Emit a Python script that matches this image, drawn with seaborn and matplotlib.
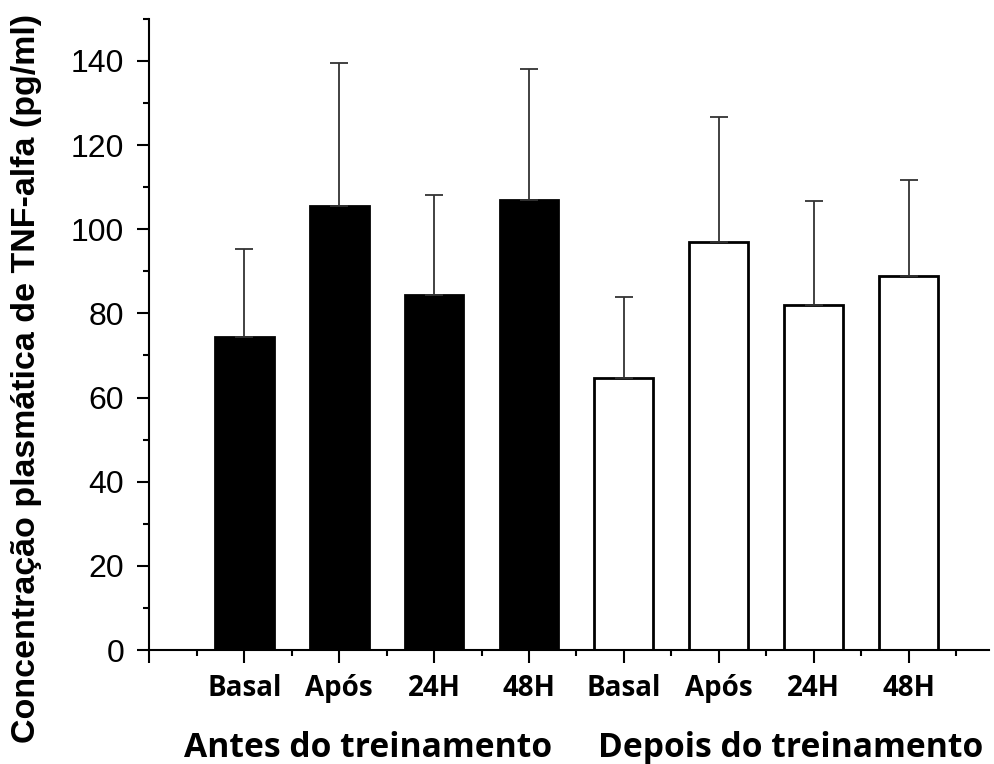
import matplotlib
matplotlib.use("Agg")
import matplotlib.pyplot as plt
from matplotlib.ticker import MultipleLocator, FixedLocator
import seaborn as sns
import pandas as pd
import numpy as np

# ---- data ----
positions = [1, 2, 3, 4, 5, 6, 7, 8]
tick_labels = ["Basal", "Após", "24H", "48H", "Basal", "Após", "24H", "48H"]
groups = ["Antes do treinamento"] * 4 + ["Depois do treinamento"] * 4
group_names = ["Antes do treinamento", "Depois do treinamento"]
means = [74.5, 105.6, 84.3, 107.0, 64.7, 96.9, 81.9, 88.8]
upper_err_tops = [95.3, 139.4, 108.2, 138.1, 83.8, 126.7, 106.6, 111.6]
y_label = "Concentração plasmática de TNF-alfa (pg/ml)"

sns.set_theme(style="white")
plt.rcParams["font.family"] = ["Liberation Sans", "DejaVu Sans"]

df = pd.DataFrame({"pos": positions, "mean": means, "grupo": groups})

fig = plt.figure(figsize=(9.95, 7.64), dpi=100)
ax = fig.add_axes([149.3 / 995, 114 / 764, 840 / 995, (650 - 18.9) / 764])

sns.barplot(data=df, x="pos", y="mean", hue="grupo", native_scale=True,
            palette={group_names[0]: "black", group_names[1]: "white"},
            edgecolor="black", linewidth=2.0, width=0.62, dodge=False,
            errorbar=None, legend=False, ax=ax)

yerr_up = np.array(upper_err_tops) - np.array(means)
ax.errorbar(positions, means, yerr=[np.zeros(len(means)), yerr_up], fmt="none",
            ecolor="#333333", elinewidth=1.3, capsize=6.5, capthick=1.3, zorder=1)

ax.set_xlim(0, 8.85)
ax.set_ylim(0, 150)

for s in ["top", "right"]:
    ax.spines[s].set_visible(False)
for s in ["left", "bottom"]:
    ax.spines[s].set_color("black")
    ax.spines[s].set_linewidth(1.5)

ax.yaxis.set_major_locator(MultipleLocator(20))
ax.yaxis.set_minor_locator(MultipleLocator(10))
ax.xaxis.set_major_locator(FixedLocator([0] + positions))
ax.xaxis.set_minor_locator(FixedLocator([p - 0.5 for p in positions] + [8.5]))
ax.set_xticklabels([""] + tick_labels)

ax.tick_params(axis="both", which="major", direction="out", length=9, width=1.5,
               color="black", bottom=True, left=True)
ax.tick_params(axis="both", which="minor", direction="out", length=4.5, width=1.5,
               color="black", bottom=True, left=True)
ax.tick_params(axis="y", which="major", labelsize=23, pad=9, labelcolor="black")
ax.tick_params(axis="x", which="major", labelsize=20, pad=8, labelcolor="black")
for lab in ax.get_yticklabels():
    lab.set_fontfamily(["Liberation Sans", "DejaVu Sans"])
for lab in ax.get_xticklabels():
    lab.set_fontfamily(["Open Sans", "DejaVu Sans"])
    lab.set_fontweight("bold")

ax.set_xlabel("")
ax.set_ylabel("")

fig.text(27 / 995, 0.505, y_label, rotation=90, ha="center", va="center",
         fontsize=24.5, fontweight="bold", color="black",
         family=["Liberation Sans Narrow", "Liberation Sans", "DejaVu Sans"])

fig.text(368 / 995, 16 / 764, group_names[0], ha="center", va="center",
         fontsize=24.2, fontweight="bold", color="black", family=["Open Sans", "DejaVu Sans"])
fig.text(791 / 995, 16 / 764, group_names[1], ha="center", va="center",
         fontsize=24.2, fontweight="bold", color="black", family=["Open Sans", "DejaVu Sans"])

fig.savefig("out.png", dpi=100)
